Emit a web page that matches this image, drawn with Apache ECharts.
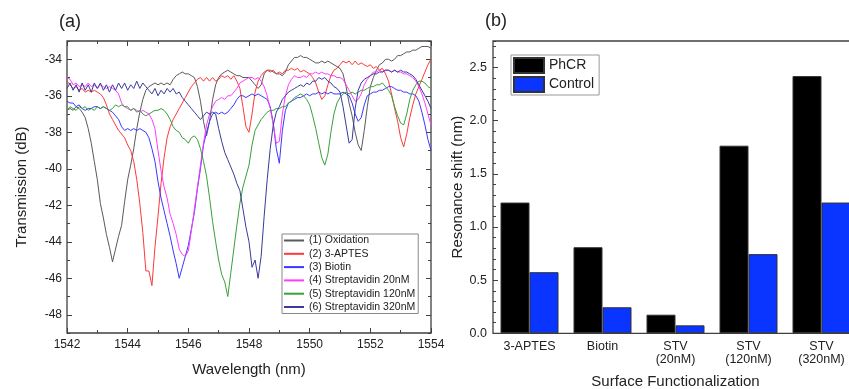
<!DOCTYPE html>
<html>
<head>
<meta charset="utf-8">
<script src="https://cdn.jsdelivr.net/npm/echarts@6/dist/echarts.min.js"></script>
<style>
html,body{margin:0;padding:0;background:#fff;overflow:hidden;}
#c{width:849px;height:389px;}
</style>
</head>
<body>
<div id="c"></div>
<script>
// ---------- Panel (a): transmission spectra ----------
const wavelength = [
1542.0,1542.1,1542.2,1542.3,1542.4,1542.5,1542.6,1542.7,1542.8,1542.9,
1543.0,1543.1,1543.2,1543.3,1543.4,1543.5,1543.6,1543.7,1543.8,1543.9,
1544.0,1544.1,1544.2,1544.3,1544.4,1544.5,1544.6,1544.7,1544.8,1544.9,
1545.0,1545.1,1545.2,1545.3,1545.4,1545.5,1545.6,1545.7,1545.8,1545.9,
1546.0,1546.1,1546.2,1546.3,1546.4,1546.5,1546.6,1546.7,1546.8,1546.9,
1547.0,1547.1,1547.2,1547.3,1547.4,1547.5,1547.6,1547.7,1547.8,1547.9,
1548.0,1548.1,1548.2,1548.3,1548.4,1548.5,1548.6,1548.7,1548.8,1548.9,
1549.0,1549.1,1549.2,1549.3,1549.4,1549.5,1549.6,1549.7,1549.8,1549.9,
1550.0,1550.1,1550.2,1550.3,1550.4,1550.5,1550.6,1550.7,1550.8,1550.9,
1551.0,1551.1,1551.2,1551.3,1551.4,1551.5,1551.6,1551.7,1551.8,1551.9,
1552.0,1552.1,1552.2,1552.3,1552.4,1552.5,1552.6,1552.7,1552.8,1552.9,
1553.0,1553.1,1553.2,1553.3,1553.4,1553.5,1553.6,1553.7,1553.8,1553.9,
1554.0];

const oxidation = [
-36.8,-36.7,-36.8,-36.6,-36.7,-36.9,-37.2,-37.8,-38.6,-39.6,
-40.6,-41.9,-42.7,-43.6,-44.3,-45.1,-44.4,-43.7,-43.1,-41.8,
-40.6,-39.8,-38.9,-37.8,-36.9,-36.2,-35.7,-35.5,-35.4,-35.3,
-35.4,-35.3,-35.4,-35.3,-35.4,-35.1,-34.9,-34.8,-34.7,-34.8,
-34.8,-34.9,-35.0,-35.5,-36.3,-37.4,-38.2,-37.4,-36.2,-35.4,
-35.0,-34.8,-34.7,-34.6,-34.7,-34.8,-34.9,-34.9,-35.0,-35.0,
-35.0,-35.2,-35.4,-35.6,-35.4,-34.8,-34.6,-34.6,-34.7,-34.8,
-34.8,-34.9,-34.7,-34.3,-34.1,-33.9,-33.9,-33.8,-33.9,-33.9,
-34.0,-34.1,-34.2,-34.2,-34.1,-34.2,-34.1,-34.2,-34.3,-34.4,
-34.5,-34.8,-35.5,-36.4,-37.1,-38.0,-38.7,-39.0,-37.9,-36.6,
-35.5,-35.0,-34.6,-34.3,-34.2,-34.0,-34.0,-34.1,-34.0,-33.8,
-33.8,-33.7,-33.6,-33.6,-33.5,-33.5,-33.4,-33.3,-33.3,-33.3,
-33.4];

const aptes = [
-35.2,-35.4,-35.6,-35.5,-35.7,-35.6,-35.8,-35.7,-35.8,-35.7,
-35.8,-35.9,-36.1,-36.5,-37.0,-37.3,-37.6,-37.9,-38.1,-38.3,
-38.7,-39.0,-39.6,-40.6,-41.9,-43.5,-45.6,-45.6,-46.4,-44.3,
-42.6,-40.8,-39.4,-38.3,-37.7,-37.3,-37.0,-36.7,-36.4,-36.1,
-35.8,-35.5,-35.3,-35.1,-35.0,-35.2,-35.0,-35.2,-35.0,-35.2,
-35.1,-34.9,-35.0,-34.9,-35.1,-34.9,-35.2,-35.6,-36.6,-37.7,
-38.0,-37.0,-35.8,-35.2,-34.9,-34.7,-34.6,-34.7,-34.6,-34.8,
-34.7,-34.8,-34.6,-34.6,-34.5,-34.6,-34.5,-34.7,-34.6,-34.7,
-34.8,-35.0,-35.3,-35.8,-36.2,-36.0,-35.4,-34.9,-34.6,-34.5,
-34.3,-34.1,-34.2,-34.1,-34.3,-34.1,-34.3,-34.2,-34.3,-34.4,
-34.3,-34.5,-34.4,-34.6,-34.5,-34.8,-35.2,-35.9,-36.7,-37.4,
-38.3,-38.8,-38.1,-37.2,-36.5,-35.9,-35.5,-35.1,-34.7,-34.3,
-34.0];

const biotin = [
-36.3,-36.4,-36.4,-36.6,-36.5,-36.7,-36.8,-36.7,-36.7,-36.6,
-36.6,-36.7,-36.6,-36.7,-36.8,-36.9,-37.1,-37.3,-37.7,-37.9,
-37.8,-37.9,-37.8,-37.9,-37.8,-37.9,-38.0,-38.3,-38.9,-39.6,
-40.7,-41.6,-42.3,-43.0,-43.7,-44.5,-45.2,-46.0,-45.4,-44.8,
-44.2,-43.3,-42.4,-41.1,-40.0,-38.7,-38.0,-37.4,-37.0,-36.9,
-37.0,-36.9,-37.0,-36.9,-36.7,-36.5,-36.2,-36.0,-36.0,-36.1,
-36.0,-35.9,-36.0,-35.9,-36.0,-36.1,-36.2,-36.6,-37.5,-38.9,
-39.7,-37.9,-36.8,-36.4,-36.3,-36.2,-36.1,-36.1,-36.0,-35.9,
-36.0,-35.9,-35.9,-35.8,-35.9,-35.8,-35.9,-35.8,-35.9,-35.9,
-35.9,-35.8,-35.9,-36.0,-36.4,-37.0,-37.4,-37.2,-36.5,-36.0,
-35.9,-35.8,-35.8,-35.7,-35.7,-35.6,-35.5,-35.5,-35.6,-35.7,
-35.7,-35.8,-35.8,-35.9,-35.9,-36.0,-36.3,-36.9,-37.6,-38.4,
-39.0];

const stv20 = [
-35.0,-35.1,-35.4,-35.3,-35.5,-35.4,-35.5,-35.3,-35.5,-35.4,
-35.6,-35.4,-35.5,-35.6,-35.5,-35.6,-35.7,-35.9,-36.4,-36.6,
-36.7,-36.8,-36.7,-36.8,-36.9,-36.8,-36.9,-37.0,-37.3,-37.8,
-39.0,-40.1,-41.0,-41.6,-42.5,-43.0,-43.6,-44.4,-44.7,-44.8,
-44.5,-43.4,-42.2,-41.0,-39.8,-38.6,-37.6,-37.0,-36.6,-36.3,
-36.2,-36.1,-36.2,-36.0,-36.0,-35.8,-35.6,-35.3,-35.2,-35.1,
-35.0,-35.0,-35.1,-35.0,-35.2,-35.5,-36.0,-36.7,-37.6,-38.6,
-38.5,-37.0,-36.0,-35.4,-35.1,-34.9,-35.0,-35.0,-34.9,-35.0,
-34.8,-34.8,-34.7,-34.8,-34.7,-34.8,-34.8,-34.9,-34.9,-35.0,
-35.0,-35.1,-35.4,-35.7,-36.0,-36.3,-36.2,-35.9,-35.4,-35.1,
-34.9,-34.7,-34.7,-34.6,-34.7,-34.6,-34.6,-34.7,-34.6,-34.7,
-34.7,-34.8,-34.8,-34.9,-35.0,-35.2,-35.5,-35.9,-36.4,-37.0,
-37.6];

const stv120 = [
-36.8,-36.6,-36.7,-36.8,-36.6,-36.7,-36.6,-36.8,-36.7,-36.8,
-36.6,-36.7,-36.6,-36.7,-36.8,-36.7,-36.5,-36.6,-36.5,-36.6,
-36.6,-36.8,-36.7,-36.9,-36.8,-37.0,-37.1,-37.0,-36.9,-36.8,
-36.8,-36.7,-36.8,-37.0,-37.3,-37.7,-37.9,-38.0,-38.3,-38.4,
-38.6,-38.3,-38.2,-38.4,-38.9,-39.6,-40.4,-41.6,-42.9,-44.0,
-45.0,-45.8,-46.2,-47.0,-45.7,-44.4,-43.1,-41.9,-41.0,-40.4,
-39.8,-38.7,-37.9,-37.6,-37.3,-37.1,-36.9,-36.8,-36.8,-36.7,
-36.7,-36.6,-36.6,-36.4,-36.3,-36.1,-36.0,-35.9,-36.0,-36.2,
-36.5,-37.1,-37.8,-38.6,-39.4,-39.8,-39.2,-38.0,-37.0,-36.4,
-36.1,-35.9,-35.8,-35.9,-35.8,-35.9,-35.8,-35.7,-35.7,-35.6,
-35.5,-35.5,-35.4,-35.4,-35.3,-35.5,-35.7,-36.0,-36.6,-37.1,
-37.5,-37.6,-37.0,-36.2,-35.7,-35.4,-35.2,-35.2,-35.3,-35.5,
-35.6];

const stv320 = [
-35.6,-35.3,-35.7,-35.4,-35.8,-35.3,-35.7,-35.4,-35.8,-35.3,
-35.6,-35.3,-35.7,-35.4,-35.8,-35.4,-35.7,-35.3,-35.6,-35.3,
-35.7,-35.4,-35.6,-35.2,-35.6,-35.3,-35.5,-35.7,-35.9,-35.6,
-36.0,-35.7,-35.9,-35.6,-35.8,-35.6,-35.9,-35.8,-36.1,-36.3,
-36.5,-36.7,-36.9,-37.1,-37.3,-37.1,-36.9,-37.0,-36.9,-37.0,
-37.8,-38.5,-39.1,-39.5,-39.9,-40.3,-40.8,-41.2,-42.2,-43.2,
-44.0,-45.4,-45.0,-46.0,-44.8,-42.6,-40.6,-38.9,-37.6,-36.9,
-36.6,-36.2,-36.0,-35.8,-35.7,-35.6,-35.5,-35.4,-35.5,-35.3,
-35.4,-35.2,-35.2,-35.0,-35.1,-35.0,-35.2,-35.3,-35.5,-35.6,
-35.8,-36.6,-37.6,-38.6,-38.4,-36.7,-35.7,-35.3,-35.1,-35.0,
-34.9,-34.8,-34.8,-34.7,-34.7,-34.6,-34.6,-34.7,-34.6,-34.7,
-34.6,-34.7,-34.7,-34.8,-34.9,-35.1,-35.4,-35.7,-36.0,-36.3,
-36.7];

const spectraNames = ['(1) Oxidation','(2) 3-APTES','(3) Biotin','(4) Streptavidin 20nM','(5) Streptavidin 120nM','(6) Streptavidin 320nM'];
const spectraValues = [oxidation, aptes, biotin, stv20, stv120, stv320];
const spectraColors = ['#5a5a5a','#ff3838','#3838ff','#ff3cff','#3aa03a','#3a3a9c'];

// ---------- Panel (b): resonance shift ----------
const categories = ['3-APTES','Biotin','STV\n(20nM)','STV\n(120nM)','STV\n(320nM)'];
const phcr = [1.23, 0.81, 0.175, 1.765, 2.42];
const control = [0.575, 0.245, 0.075, 0.745, 1.23];

const FONT = "'Liberation Sans', Arial, sans-serif";
const AX = '#404040';
const TXT = '#222';

const chart = echarts.init(document.getElementById('c'), null, {renderer:'canvas'});

const lineSeries = spectraNames.map((name, i) => ({
  name: name,
  type: 'line',
  xAxisIndex: 0, yAxisIndex: 0,
  data: wavelength.map((w, k) => [w, spectraValues[i][k]]),
  symbol: 'none',
  showSymbol: false,
  lineStyle: {width: 1, color: spectraColors[i]},
  itemStyle: {color: spectraColors[i]},
  z: 3 + i
}));

const tickIn = (len) => ({show:true, inside:true, length:len, lineStyle:{color:AX, width:1}});
const G = {outerBoundsMode:'none', containLabel:false};

const option = {
  animation: false,
  backgroundColor: '#fff',
  textStyle: {fontFamily: FONT},
  grid: [
    Object.assign({left:67, top:41, width:364, height:292, show:true, borderColor:AX, borderWidth:1.3, backgroundColor:'transparent'}, G),
    Object.assign({left:493, top:41, width:365, height:292.3, show:true, borderColor:AX, borderWidth:1.3, backgroundColor:'transparent'}, G),
    Object.assign({left:67, top:59.25, width:364, height:255.5, show:false}, G),
    Object.assign({left:493, top:67.55, width:365, height:265.75, show:false}, G)
  ],
  xAxis: [
    {gridIndex:0, type:'value', min:1542, max:1554, interval:2, position:'bottom',
     axisLine:{show:false}, axisTick:tickIn(5),
     minorTick:{show:true, splitNumber:2, length:3, lineStyle:{color:AX}},
     splitLine:{show:false}, minorSplitLine:{show:false},
     axisLabel:{fontSize:12, color:TXT, margin:6, fontFamily:FONT, formatter: v => String(v)},
     name:'Wavelength (nm)', nameLocation:'middle', nameGap:29,
     nameTextStyle:{fontSize:15, color:TXT, fontFamily:FONT}},
    {gridIndex:0, type:'value', min:1542, max:1554, interval:2, position:'top',
     axisLine:{show:false}, axisTick:tickIn(5),
     minorTick:{show:true, splitNumber:2, length:3, lineStyle:{color:AX}},
     splitLine:{show:false}, axisLabel:{show:false}},
    {gridIndex:1, type:'category', data:categories, position:'bottom',
     axisLine:{show:false}, axisTick:{show:false}, splitLine:{show:false},
     axisLabel:{fontSize:12.5, color:TXT, margin:6, lineHeight:13.5, interval:0, fontFamily:FONT},
     name:'Surface Functionalization', nameLocation:'middle', nameGap:41,
     nameTextStyle:{fontSize:15, color:TXT, fontFamily:FONT}},
    {gridIndex:2, type:'value', min:0, max:1, show:false},
    {gridIndex:3, type:'value', min:0, max:1, show:false}
  ],
  yAxis: [
    {gridIndex:0, type:'value', min:-49, max:-33, interval:1, position:'left',
     axisLine:{show:false}, axisTick:tickIn(3), splitLine:{show:false}, axisLabel:{show:false},
     name:'Transmission (dB)', nameLocation:'middle', nameGap:38,
     nameTextStyle:{fontSize:15, color:TXT, fontFamily:FONT}},
    {gridIndex:0, type:'value', min:-49, max:-33, interval:1, position:'right',
     axisLine:{show:false}, axisTick:tickIn(3), splitLine:{show:false}, axisLabel:{show:false}},
    {gridIndex:1, type:'value', min:0, max:2.75, interval:0.1, position:'left',
     axisLine:{show:false}, axisTick:tickIn(3), splitLine:{show:false},
     axisLabel:{fontSize:12.5, color:TXT, margin:6, fontFamily:FONT,
       formatter: v => (Math.abs(v*2 - Math.round(v*2)) < 1e-6 ? v.toFixed(1) : '')},
     name:'Resonance shift (nm)', nameLocation:'middle', nameGap:27,
     nameTextStyle:{fontSize:15, color:TXT, fontFamily:FONT}},
    {gridIndex:2, type:'value', min:-48, max:-34, interval:2, position:'left',
     axisLine:{show:false}, axisTick:tickIn(5), splitLine:{show:false},
     axisLabel:{fontSize:12, color:TXT, margin:5, fontFamily:FONT}},
    {gridIndex:2, type:'value', min:-48, max:-34, interval:2, position:'right',
     axisLine:{show:false}, axisTick:tickIn(5), splitLine:{show:false}, axisLabel:{show:false}},
    {gridIndex:3, type:'value', min:0, max:2.5, interval:0.5, position:'left',
     axisLine:{show:false}, axisTick:tickIn(5), splitLine:{show:false}, axisLabel:{show:false}}
  ],
  legend: [
    {data: spectraNames, orient:'vertical', left:282, top:234, align:'left',
     itemWidth:20, itemHeight:10, itemGap:2.3,
     itemStyle:{opacity:0, borderWidth:0},
     padding:[1,3,1,1], backgroundColor:'#fff', borderColor:'#888', borderWidth:1,
     textStyle:{fontSize:10.5, color:TXT, fontFamily:FONT, lineHeight:10.6}},
    {data:['PhCR','Control'], orient:'vertical', left:511, top:55, align:'left',
     itemWidth:30, itemHeight:15, itemGap:2, icon:'rect',
     padding:[2,5,2,2], backgroundColor:'#fff', borderColor:'#999', borderWidth:1,
     textStyle:{fontSize:14, color:TXT, fontFamily:FONT}}
  ],
  graphic: [
    {type:'text', left:59, top:13, style:{text:'(a)', fontSize:18, fill:TXT, fontFamily:FONT}},
    {type:'text', left:485, top:12, style:{text:'(b)', fontSize:18, fill:TXT, fontFamily:FONT}}
  ],
  series: lineSeries.concat([
    {name:'PhCR', type:'bar', xAxisIndex:2, yAxisIndex:2, data:phcr, barWidth:29, barGap:'0%',
     itemStyle:{color:'#000000', borderColor:'#333', borderWidth:1}},
    {name:'Control', type:'bar', xAxisIndex:2, yAxisIndex:2, data:control, barWidth:29, barGap:'0%',
     itemStyle:{color:'#0a34ff', borderColor:'#333', borderWidth:1}}
  ])
};
chart.setOption(option);
</script>
</body>
</html>
